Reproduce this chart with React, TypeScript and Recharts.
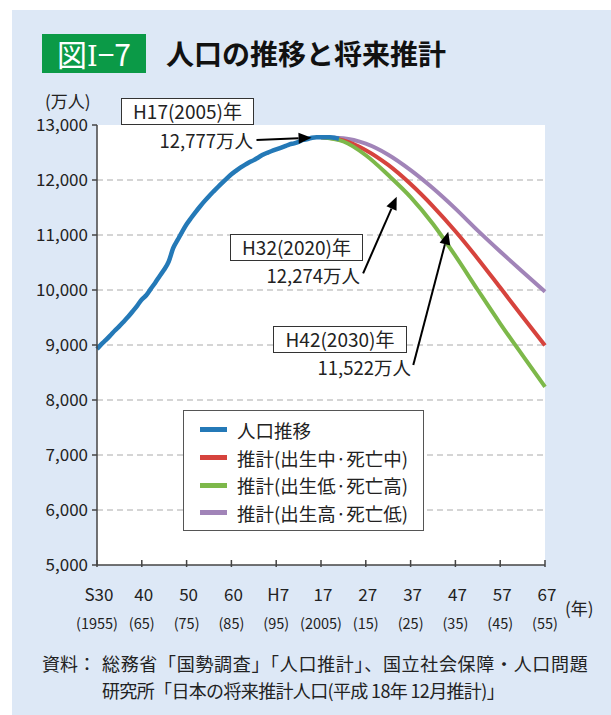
import React from 'react';
import { LineChart, Line, XAxis, YAxis, CartesianGrid, Legend, ReferenceLine } from 'recharts';

// 人口推移 (万人)
const histYears = [
  1955, 1956, 1957, 1958, 1959, 1960, 1961, 1962, 1963, 1964, 1965, 1966, 1967, 1968, 1969, 1970, 1971, 1972,
  1973, 1974, 1975, 1976, 1977, 1978, 1979, 1980, 1981, 1982, 1983, 1984, 1985, 1986, 1987, 1988, 1989, 1990,
  1991, 1992, 1993, 1994, 1995, 1996, 1997, 1998, 1999, 2000, 2001, 2002, 2003, 2004, 2005, 2006, 2007, 2008, 2009,
];
const histPop = [
  8928, 9017, 9093, 9177, 9264, 9342, 9429, 9518, 9616, 9718, 9828, 9904, 10020, 10133, 10254, 10372, 10515, 10760,
  10910, 11057, 11194, 11309, 11417, 11519, 11616, 11706, 11790, 11873, 11954, 12031, 12105, 12166, 12224, 12275, 12321, 12361,
  12410, 12457, 12494, 12527, 12557, 12586, 12616, 12647, 12667, 12693, 12729, 12744, 12769, 12779, 12777, 12777, 12777, 12769, 12751,
];

// 将来推計 (万人)
const projYears = [2005, 2010, 2015, 2020, 2025, 2030, 2035, 2040, 2045, 2050, 2055];
const projMid = [12777, 12718, 12543, 12274, 11927, 11522, 11068, 10570, 10044, 9515, 8993];
const projLow = [12777, 12700, 12450, 12090, 11690, 11200, 10620, 10000, 9390, 8810, 8240];
const projHigh = [12777, 12760, 12660, 12460, 12180, 11850, 11480, 11080, 10700, 10330, 9970];

const xTicks = [1955, 1965, 1975, 1985, 1995, 2005, 2015, 2025, 2035, 2045, 2055];
const xLabelsTop = ['S30', '40', '50', '60', 'H7', '17', '27', '37', '47', '57', '67'];
const xLabelsBottom = ['(1955)', '(65)', '(75)', '(85)', '(95)', '(2005)', '(15)', '(25)', '(35)', '(45)', '(55)'];
const yTicks = [5000, 6000, 7000, 8000, 9000, 10000, 11000, 12000, 13000];
const gridValues = [6000, 7000, 8000, 9000, 10000, 11000, 12000];

// arrows: [fromYear, fromValue, toYear, toValue]
const arrows = [
  [1990.6, 12727, 2002.9, 12769],
  [2014.4, 10304, 2021.9, 11697],
  [2025.6, 8636, 2033.4, 11061],
];

const series = [
  { name: '人口推移', color: '#2479b7' },
  { name: '推計(出生中·死亡中)', color: '#d6433d' },
  { name: '推計(出生低·死亡高)', color: '#7db84a' },
  { name: '推計(出生高·死亡低)', color: '#a184b8' },
];

const histData = histYears.map((year, i) => ({ year, v: histPop[i] }));
const midData = projYears.map((year, i) => ({ year, v: projMid[i] }));
const lowData = projYears.map((year, i) => ({ year, v: projLow[i] }));
const highData = projYears.map((year, i) => ({ year, v: projHigh[i] }));

const FONT = '"Noto Sans CJK JP", "Noto Sans", sans-serif';

const XTick = (props: any) => {
  const { x, y, payload } = props;
  const i = xTicks.indexOf(payload.value);
  return (
    <g>
      <line x1={x} y1={y} x2={x} y2={y - 7} stroke="#444" strokeWidth={1.5} />
      <text x={x + 2} y={y + 34} textAnchor="middle" fontSize={17} fill="#222" fontFamily={FONT}>
        {xLabelsTop[i]}
      </text>
      <text x={x} y={y + 62} textAnchor="middle" fontSize={14.5} fill="#222" fontFamily={FONT}>
        {xLabelsBottom[i]}
      </text>
    </g>
  );
};

const Arrow = (p: any) => {
  const { x1, y1, x2, y2 } = p;
  const ang = Math.atan2(y2 - y1, x2 - x1);
  const L = 13;
  const W = 5.5;
  const bx = x2 - L * Math.cos(ang);
  const by = y2 - L * Math.sin(ang);
  const px = -Math.sin(ang) * W;
  const py = Math.cos(ang) * W;
  return (
    <g>
      <line x1={x1} y1={y1} x2={bx} y2={by} stroke="#000" strokeWidth={2} />
      <polygon points={`${x2},${y2} ${bx + px},${by + py} ${bx - px},${by - py}`} fill="#000" />
    </g>
  );
};

const LegendBox = () => (
  <div
    style={{
      width: 241,
      height: 121,
      background: '#fff',
      border: '1.5px solid #555',
      boxSizing: 'border-box',
      padding: '5px 0 0 16px',
      fontFamily: FONT,
    }}
  >
    {series.map((s) => (
      <div key={s.name} style={{ display: 'flex', alignItems: 'center', height: 27.7 }}>
        <span style={{ width: 27, height: 5, background: s.color, marginRight: 10 }} />
        <span style={{ fontSize: 18.5, color: '#222', whiteSpace: 'nowrap' }}>{s.name}</span>
      </div>
    ))}
  </div>
);

const boxStyle: React.CSSProperties = {
  position: 'absolute',
  background: '#fff',
  border: '1.5px solid #333',
  boxSizing: 'border-box',
  fontSize: 19,
  color: '#222',
  textAlign: 'center',
  fontFamily: FONT,
  whiteSpace: 'nowrap',
};

const noteStyle: React.CSSProperties = {
  position: 'absolute',
  fontSize: 18.5,
  color: '#222',
  textAlign: 'right',
  fontFamily: FONT,
  whiteSpace: 'nowrap',
};

export default function App() {
  return (
    <div
      style={{
        position: 'absolute',
        left: 0,
        top: 0,
        width: 611,
        height: 715,
        background: '#fff',
        overflow: 'hidden',
        fontFamily: FONT,
      }}
    >
      <div style={{ position: 'absolute', left: 12, top: 10, right: 0, bottom: 0, background: '#dde8f6' }} />

      <div
        style={{
          position: 'absolute',
          left: 42,
          top: 34,
          width: 104,
          height: 39,
          background: '#0b9a47',
          color: '#fff',
          fontSize: 30,
          lineHeight: '39px',
          textAlign: 'center',
          whiteSpace: 'nowrap',
        }}
      >
        図<span style={{ fontFamily: '"DejaVu Serif", serif', fontSize: 27 }}>Ⅰ</span>−7
      </div>
      <div
        style={{
          position: 'absolute',
          left: 166,
          top: 34,
          height: 39,
          lineHeight: '39px',
          fontSize: 28,
          fontWeight: 'bold',
          color: '#111',
          whiteSpace: 'nowrap',
        }}
      >
        人口の推移と将来推計
      </div>
      <div style={{ position: 'absolute', left: 45, top: 88, fontSize: 17, color: '#222' }}>(万人)</div>

      <div style={{ position: 'absolute', left: 0, top: 0 }}>
        <LineChart width={611} height={715} data={histData} margin={{ top: 125, right: 66, bottom: 90, left: 37 }}>
          <CartesianGrid fill="#fff" vertical={false} horizontalValues={gridValues} stroke="#aaa" strokeDasharray="6 4" />
          <XAxis
            dataKey="year"
            type="number"
            domain={[1955, 2055]}
            ticks={xTicks}
            interval={0}
            height={60}
            tickSize={0}
            tickLine={false}
            axisLine={{ stroke: '#444', strokeWidth: 1.5 }}
            tick={<XTick />}
          />
          <YAxis
            type="number"
            domain={[5000, 13000]}
            ticks={yTicks}
            interval={0}
            width={60}
            tickSize={5}
            tickMargin={4}
            tickFormatter={(v: number) => v.toLocaleString('en-US')}
            tick={{ fontSize: 17, fill: '#222', fontFamily: FONT }}
            axisLine={{ stroke: '#444', strokeWidth: 1.5 }}
            tickLine={{ stroke: '#444', strokeWidth: 1.5 }}
          />
          <Legend
            layout="horizontal"
            verticalAlign="middle"
            align="center"
            content={() => <LegendBox />}
            wrapperStyle={{ left: 183, top: 410, width: 241, height: 121 }}
          />
          <Line data={highData} dataKey="v" name={series[3].name} type="monotone" stroke={series[3].color} strokeWidth={4} dot={false} isAnimationActive={false} />
          <Line data={midData} dataKey="v" name={series[1].name} type="monotone" stroke={series[1].color} strokeWidth={4} dot={false} isAnimationActive={false} />
          <Line data={lowData} dataKey="v" name={series[2].name} type="monotone" stroke={series[2].color} strokeWidth={4} dot={false} isAnimationActive={false} />
          <Line data={histData} dataKey="v" name={series[0].name} type="monotone" stroke={series[0].color} strokeWidth={4.5} dot={false} isAnimationActive={false} />
          {arrows.map((a, i) => (
            <ReferenceLine
              key={i}
              segment={[
                { x: a[0], y: a[1] },
                { x: a[2], y: a[3] },
              ]}
              ifOverflow="visible"
              shape={Arrow}
            />
          ))}
        </LineChart>
      </div>

      <div style={{ ...boxStyle, left: 121, top: 98, width: 133, height: 27, lineHeight: '24px' }}>H17(2005)年</div>
      <div style={{ ...noteStyle, left: 130, width: 123, top: 127, lineHeight: '26px' }}>12,777万人</div>
      <div style={{ ...boxStyle, left: 230, top: 234, width: 133, height: 27, lineHeight: '24px' }}>H32(2020)年</div>
      <div style={{ ...noteStyle, left: 237, width: 123, top: 262, lineHeight: '26px' }}>12,274万人</div>
      <div style={{ ...boxStyle, left: 273, top: 326, width: 134, height: 27, lineHeight: '24px' }}>H42(2030)年</div>
      <div style={{ ...noteStyle, left: 288, width: 123, top: 354, lineHeight: '26px' }}>11,522万人</div>

      <div style={{ position: 'absolute', left: 565, top: 595, fontSize: 17, color: '#222' }}>(年)</div>

      <div style={{ position: 'absolute', left: 42, top: 650, fontSize: 18, color: '#222', whiteSpace: 'nowrap', lineHeight: '26px' }}>
        資料：
      </div>
      <div
        style={{
          position: 'absolute',
          left: 102,
          top: 650,
          fontSize: 18,
          letterSpacing: 0.68,
          color: '#222',
          whiteSpace: 'nowrap',
          lineHeight: '26px',
        }}
      >
        総務省「国勢調査」「人口推計」、国立社会保障・人口問題
      </div>
      <div
        style={{
          position: 'absolute',
          left: 102,
          top: 677,
          fontSize: 18,
          letterSpacing: -0.65,
          color: '#222',
          whiteSpace: 'nowrap',
          lineHeight: '26px',
        }}
      >
        研究所「日本の将来推計人口(平成 18年 12月推計)」
      </div>
    </div>
  );
}
